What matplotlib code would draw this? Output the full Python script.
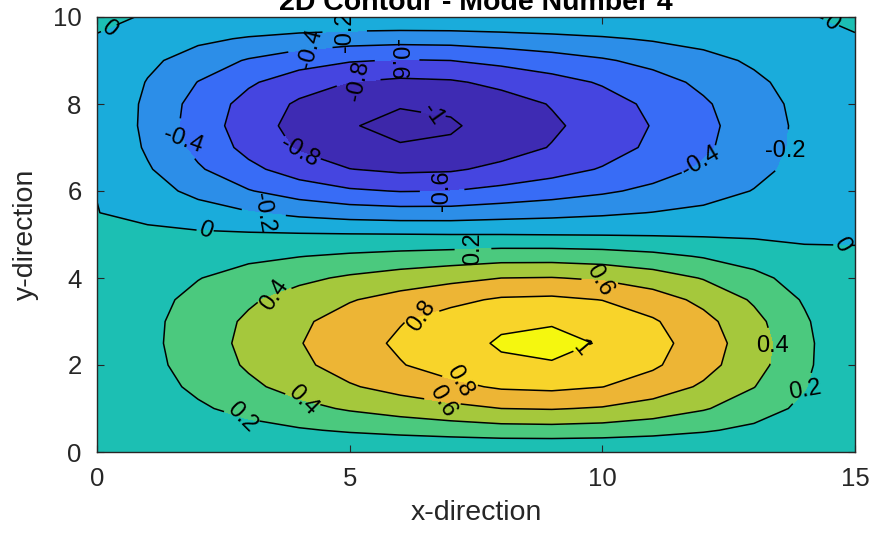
import numpy as np
import matplotlib
matplotlib.use("Agg")
import matplotlib.pyplot as plt
from matplotlib.colors import ListedColormap, BoundaryNorm

# ---------------- data ----------------
x_grid = [0, 1, 2, 3, 4, 5, 6, 7, 8, 9, 10, 11, 12, 13, 14, 15]
y_grid = [0.0, 0.5, 1.0, 1.5, 2.0, 2.5, 3.0, 3.5, 4.0, 4.5, 5.0,
          5.5, 6.0, 6.5, 7.0, 7.5, 8.0, 8.5, 9.0, 9.5, 10.0]

# mode-shape values, one row per y_grid value (columns follow x_grid)
z_rows = [
    [0.002, 0.002, 0.002, 0.002, 0.002, 0.002, 0.002, 0.002, 0.002, 0.002, 0.002, 0.002, 0.002, 0.002, 0.002, 0.002],
    [0.002, 0.045, 0.090, 0.137, 0.181, 0.222, 0.256, 0.287, 0.315, 0.322, 0.307, 0.271, 0.220, 0.156, 0.082, 0.002],
    [0.002, 0.087, 0.172, 0.261, 0.344, 0.422, 0.487, 0.547, 0.600, 0.612, 0.584, 0.515, 0.417, 0.296, 0.155, 0.002],
    [0.002, 0.120, 0.238, 0.360, 0.475, 0.581, 0.671, 0.752, 0.825, 0.843, 0.803, 0.708, 0.572, 0.405, 0.211, 0.002],
    [0.002, 0.144, 0.282, 0.425, 0.559, 0.684, 0.789, 0.885, 0.970, 0.989, 0.943, 0.830, 0.670, 0.472, 0.243, 0.002],
    [0.002, 0.154, 0.300, 0.450, 0.590, 0.720, 0.830, 0.930, 1.020, 1.040, 0.990, 0.870, 0.700, 0.489, 0.249, 0.002],
    [0.002, 0.152, 0.290, 0.432, 0.564, 0.687, 0.790, 0.885, 0.970, 0.988, 0.939, 0.823, 0.659, 0.456, 0.227, 0.002],
    [0.002, 0.136, 0.254, 0.373, 0.483, 0.586, 0.674, 0.752, 0.825, 0.839, 0.796, 0.695, 0.551, 0.376, 0.180, 0.002],
    [0.002, 0.108, 0.193, 0.279, 0.356, 0.429, 0.492, 0.547, 0.600, 0.608, 0.574, 0.497, 0.388, 0.257, 0.113, 0.002],
    [0.002, 0.071, 0.116, 0.158, 0.195, 0.231, 0.262, 0.287, 0.315, 0.316, 0.295, 0.250, 0.185, 0.110, 0.033, 0.002],
    [0.002, 0.027, 0.027, 0.022, 0.015, 0.009, 0.005, 0.000, 0.000, -0.005, -0.009, -0.015, -0.022, -0.027, -0.027, -0.002],
    [0.002, -0.033, -0.110, -0.185, -0.250, -0.295, -0.316, -0.315, -0.287, -0.262, -0.231, -0.195, -0.158, -0.116, -0.071, -0.002],
    [-0.002, -0.113, -0.257, -0.388, -0.497, -0.574, -0.608, -0.600, -0.547, -0.492, -0.429, -0.356, -0.279, -0.193, -0.108, -0.002],
    [-0.002, -0.180, -0.376, -0.551, -0.695, -0.796, -0.839, -0.825, -0.752, -0.674, -0.586, -0.483, -0.373, -0.254, -0.136, -0.002],
    [-0.002, -0.227, -0.456, -0.659, -0.823, -0.939, -0.988, -0.970, -0.885, -0.790, -0.687, -0.564, -0.432, -0.290, -0.152, -0.002],
    [-0.002, -0.249, -0.489, -0.700, -0.870, -0.990, -1.040, -1.020, -0.930, -0.830, -0.720, -0.590, -0.450, -0.300, -0.154, -0.002],
    [-0.002, -0.243, -0.472, -0.670, -0.830, -0.943, -0.989, -0.970, -0.885, -0.789, -0.684, -0.559, -0.425, -0.282, -0.144, -0.002],
    [-0.002, -0.211, -0.405, -0.572, -0.708, -0.803, -0.843, -0.825, -0.752, -0.671, -0.581, -0.475, -0.360, -0.238, -0.120, -0.002],
    [-0.002, -0.155, -0.296, -0.417, -0.515, -0.584, -0.612, -0.600, -0.547, -0.487, -0.422, -0.344, -0.261, -0.172, -0.087, -0.002],
    [-0.002, -0.082, -0.156, -0.220, -0.271, -0.307, -0.322, -0.315, -0.287, -0.256, -0.222, -0.181, -0.137, -0.090, -0.045, -0.002],
    [0.006, -0.002, -0.002, -0.002, -0.002, -0.002, -0.002, -0.002, -0.002, -0.002, -0.002, -0.002, -0.002, -0.002, -0.002, 0.005],
]

contour_levels = [-1.0, -0.8, -0.6, -0.4, -0.2, 0.0, 0.2, 0.4, 0.6, 0.8, 1.0]
fill_levels = [-1.2] + contour_levels + [1.2]
band_colors = ["#3d27a9", "#3e2bb3", "#4545e0", "#386cf6", "#2c8ee8", "#1aacdb",
               "#1cbfb3", "#4bc97e", "#a5c83c", "#edb535", "#f8d42a", "#f5f70f"]

x_ticks = [0, 5, 10, 15]
y_ticks = [0, 2, 4, 6, 8, 10]

title_text = "2D Contour - Mode Number 4"
x_label = "x-direction"
y_label = "y-direction"

# contour label anchor points and their text angles (layout only)
label_spots = [
    ((0.25, 9.70), -40), ((14.50, 9.80), -40),
    ((4.90, 9.72), 90), ((4.22, 9.29), 75), ((5.17, 8.55), 78), ((5.94, 8.97), -90),
    ((6.65, 7.72), -55), ((1.70, 7.17), -20), ((4.02, 6.94), -30), ((6.83, 6.02), 90),
    ((3.30, 5.50), -80), ((2.14, 5.12), -20), ((12.0, 6.60), 30), ((13.65, 6.90), 0),
    ((14.74, 4.80), -60),
    ((7.44, 4.68), 90), ((3.48, 3.70), 55), ((6.39, 3.25), 55), ((9.95, 3.92), -60),
    ((9.60, 2.35), -50), ((13.35, 2.45), 0), ((14.10, 1.36), 10), ((7.18, 1.62), -60),
    ((6.83, 1.12), -60), ((4.08, 1.25), -45), ((2.90, 0.95), -45),
]

# ---------------- figure ----------------
plt.rcParams["font.family"] = ["Liberation Sans", "DejaVu Sans"]
plt.rcParams["contour.negative_linestyle"] = "solid"
fig = plt.figure(figsize=(8.89, 5.36), dpi=100)
ax = fig.add_axes([97 / 889, (536 - 452) / 536, (855 - 97) / 889, (452 - 17) / 536])

X, Y = np.meshgrid(np.array(x_grid, dtype=float), np.array(y_grid, dtype=float))
Z = np.array(z_rows, dtype=float)

cmap = ListedColormap(band_colors)
norm = BoundaryNorm(fill_levels, cmap.N)
ax.contourf(X, Y, Z, levels=fill_levels, cmap=cmap, norm=norm)
cs = ax.contour(X, Y, Z, levels=contour_levels, colors="black", linewidths=1.1,
                linestyles="solid")

cs.clabel(fontsize=17, inline=True, inline_spacing=2,
          fmt=lambda v: f"{v:g}", manual=[p for p, _ in label_spots])
for t, (_, ang) in zip(cs.labelTexts, label_spots):
    t.set_rotation(ang)

ax.set_xlim(0, 15)
ax.set_ylim(0, 10)
ax.set_xticks(x_ticks)
ax.set_yticks(y_ticks)
ax.tick_params(direction="in", length=5, width=0.8, top=True, right=True,
               labelsize=18.5, colors="#262626", pad=11)
for s in ax.spines.values():
    s.set_color("#262626")
    s.set_linewidth(1.0)

ax.set_xlabel(x_label, fontsize=20.5, color="#262626", labelpad=6)
ax.set_ylabel(y_label, fontsize=20.5, color="#262626", labelpad=10)
ax.set_title(title_text, fontsize=20.5, fontweight="bold", color="black", pad=5)

fig.savefig("out.png", dpi=100)
